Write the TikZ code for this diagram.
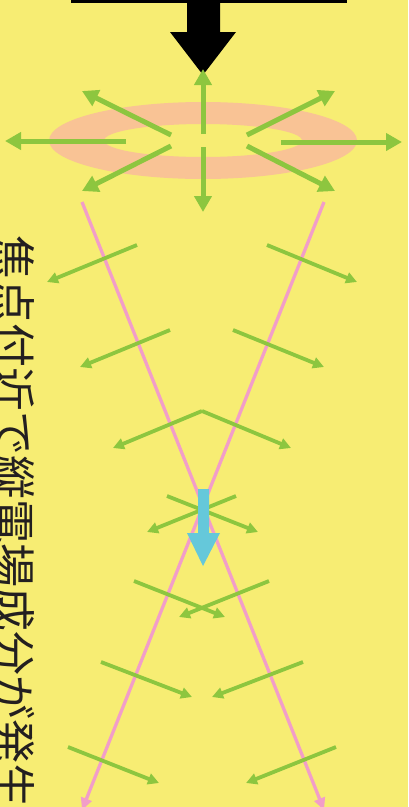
\documentclass[tikz,border=0pt]{standalone}
\usepackage{fontspec}
\newfontfamily\cjk{Noto Sans CJK JP}
\usetikzlibrary{arrows.meta}
\definecolor{bgyellow}{HTML}{F7ED73}
\definecolor{fgreen}{HTML}{8DC63F}
\definecolor{fpink}{HTML}{F29EC8}
\definecolor{fpeach}{HTML}{F9C395}
\definecolor{fcyan}{HTML}{65C8DA}
\definecolor{ftext}{HTML}{231F20}
\tikzset{
  bigg/.style={draw=fgreen, line width=5pt, -{Triangle[length=16pt,width=17pt]}},
  smallg/.style={draw=fgreen, line width=3.8pt, -{Triangle[length=11pt,width=11pt]}},
  pinkray/.style={draw=fpink, line width=3.3pt, -{Triangle[length=12pt,width=11pt]}},
}
\begin{document}
\begin{tikzpicture}[x=1pt,y=-1pt]
\clip (0,0) rectangle (408,807);
\fill[bgyellow] (0,0) rectangle (408,807);
% ring
\fill[fpeach, even odd rule] (203,140.5) ellipse [x radius=154, y radius=38.5]
  (203,140.5) ellipse [x radius=99, y radius=16.5];
% black bar and arrow
\fill[black] (71,0) rectangle (347,3);
\fill[black] (187,0) -- (220,0) -- (220,32) -- (236,32) -- (203,75) -- (170,32) -- (187,32) -- cycle;
% pink rays
\coordinate (pl1) at (82,202); \coordinate (pl2) at (324,810);
\coordinate (pr1) at (324,202); \coordinate (pr2) at (82,810);
\draw[pinkray] (pl1) -- (pl2);
\draw[pinkray] (pr1) -- (pr2);
% top green arrows
\draw[bigg] (203,134) -- (203,69);
\draw[bigg] (203,147) -- (203,212);
\draw[bigg] (126,141) -- (5,141);
\draw[bigg] (281,142) -- (402,142);
\draw[bigg] (171,135) -- (82,91);
\draw[bigg] (247,135) -- (335,91);
\draw[bigg] (171,146) -- (82,191);
\draw[bigg] (247,146) -- (335,191);
% lower green arrows
\draw[smallg] (137,245) -- (47,282);
\draw[smallg] (267,245) -- (357,282);
\draw[smallg] (170,330) -- (80,367);
\draw[smallg] (233,330) -- (324,367);
\draw[smallg] (202,411) -- (113,448);
\draw[smallg] (202,411) -- (291,448);
\draw[smallg] (167,496) -- (258,532);
\draw[smallg] (236,496) -- (147,532);
\draw[smallg] (134,581) -- (225,617);
\draw[smallg] (269,581) -- (179,617);
\draw[smallg] (101,662) -- (192,697);
\draw[smallg] (303,662) -- (212,697);
\draw[smallg] (68,747) -- (159,783);
\draw[smallg] (336,747) -- (246,783);
% cyan arrow
\fill[fcyan] (198,489) -- (209,489) -- (209,533) -- (220,533) -- (203,566) -- (187,533) -- (198,533) -- cycle;
% vertical text
\node[rotate=-90, anchor=base west, inner sep=0pt, text=ftext, font=\cjk\fontsize{44}{44}\selectfont] (txt) at (-2,235) {焦点付近で縦電場成分が発生};
\end{tikzpicture}
\end{document}
